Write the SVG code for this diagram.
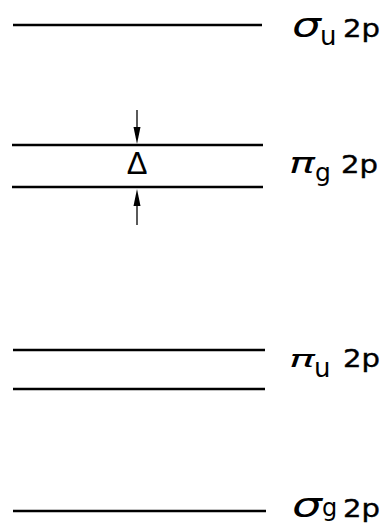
<svg xmlns="http://www.w3.org/2000/svg" width="390" height="529" viewBox="0 0 390 529">
<style>
.lvl{stroke:#000;stroke-width:2.5;fill:none}
.gr{font-family:"DejaVu Sans",sans-serif;font-style:oblique;fill:#000}
.sb{font-family:"DejaVu Sans",sans-serif;fill:#000}
.nm{font-family:"DejaVu Sans",sans-serif;fill:#000;stroke:#000;stroke-width:0.4}
.ar{stroke:#000;stroke-width:1.3;fill:none}
</style>
<rect width="390" height="529" fill="#fff"/>
<g id="sigma_u">
<line class="lvl" x1="13" y1="25" x2="262" y2="25"/>
<text class="gr" x="292" y="37" font-size="34" textLength="29" lengthAdjust="spacingAndGlyphs">σ</text>
<text class="sb" x="320" y="45" font-size="26">u</text>
<text class="nm" x="343" y="37" font-size="25" textLength="37" lengthAdjust="spacingAndGlyphs">2p</text>
</g>
<g id="pi_g">
<line class="lvl" x1="12" y1="145" x2="263" y2="145"/>
<line class="lvl" x1="12" y1="187" x2="263" y2="187"/>
<text class="gr" x="289" y="173" font-size="29" textLength="26" lengthAdjust="spacingAndGlyphs">π</text>
<text class="sb" x="315" y="181" font-size="25">g</text>
<text class="nm" x="341" y="173" font-size="25" textLength="37" lengthAdjust="spacingAndGlyphs">2p</text>
</g>
<g id="delta">
<text x="137" y="174" font-family="'Liberation Sans',sans-serif" font-size="31" text-anchor="middle">Δ</text>
</g>
<g id="pi_u">
<line class="lvl" x1="13" y1="350" x2="265" y2="350"/>
<line class="lvl" x1="13" y1="389" x2="265" y2="389"/>
<text class="gr" x="289" y="367" font-size="23" textLength="26" lengthAdjust="spacingAndGlyphs">π</text>
<text class="sb" x="314" y="377" font-size="26">u</text>
<text class="nm" x="343" y="367" font-size="25" textLength="37" lengthAdjust="spacingAndGlyphs">2p</text>
</g>
<g id="sigma_g">
<line class="lvl" x1="13" y1="511" x2="266" y2="511"/>
<text class="gr" x="292" y="517" font-size="34" textLength="30" lengthAdjust="spacingAndGlyphs">σ</text>
<text class="sb" x="322" y="516" font-size="24">g</text>
<text class="nm" x="343" y="517" font-size="25" textLength="37" lengthAdjust="spacingAndGlyphs">2p</text>
</g>
<g id="connectors">
<line class="ar" x1="137" y1="110" x2="137" y2="130"/>
<polygon points="133.5,127 140.5,127 137,144" fill="#000"/>
<line class="ar" x1="137" y1="204" x2="137" y2="225"/>
<polygon points="133.5,206 140.5,206 137,189" fill="#000"/>
</g>
</svg>
